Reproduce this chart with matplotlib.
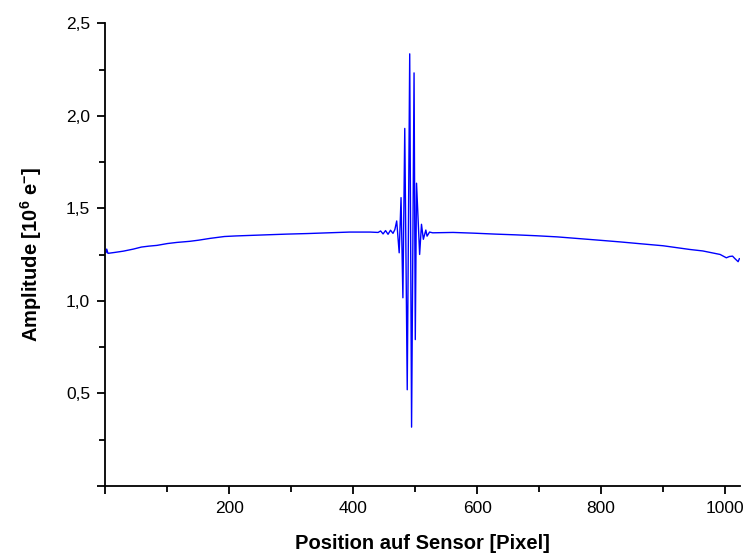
import matplotlib
matplotlib.use("Agg")
from matplotlib import pyplot as plt
from matplotlib.ticker import MultipleLocator, FuncFormatter

# sensor position [pixel] and amplitude [10^6 e-]
pos_left = [1, 2, 4, 15, 29, 45, 58, 70, 83, 100, 115, 136, 150, 169, 192, 210,
            226, 259, 293, 326, 360, 394, 427, 440, 444, 448, 452, 456, 460, 464]
amp_left = [1.262, 1.280, 1.257, 1.262, 1.269, 1.280, 1.291, 1.296, 1.300, 1.310,
            1.316, 1.322, 1.328, 1.338, 1.348, 1.351, 1.353, 1.357, 1.361, 1.364,
            1.368, 1.372, 1.372, 1.370, 1.378, 1.362, 1.380, 1.360, 1.382, 1.365]

pos_osc = [467, 470, 474, 477, 480, 483, 487, 491, 494, 498, 500, 502, 507,
           510, 513, 517, 519, 523]
amp_osc = [1.385, 1.432, 1.260, 1.558, 1.017, 1.932, 0.520, 2.335, 0.318,
           2.232, 0.791, 1.636, 1.251, 1.414, 1.333, 1.383, 1.350, 1.372]

pos_right = [528, 561, 595, 629, 662, 696, 729, 763, 797, 830, 863, 900, 943,
             964, 992, 1002, 1007, 1012, 1016, 1021, 1023]
amp_right = [1.368, 1.370, 1.366, 1.361, 1.357, 1.352, 1.346, 1.337, 1.328,
             1.319, 1.309, 1.298, 1.278, 1.270, 1.251, 1.233, 1.240, 1.242,
             1.228, 1.212, 1.228]

x = pos_left + pos_osc + pos_right
y = amp_left + amp_osc + amp_right

plt.rcParams['font.family'] = ['Liberation Sans', 'DejaVu Sans']
plt.rcParams['mathtext.fontset'] = 'custom'
plt.rcParams['mathtext.rm'] = 'Liberation Sans:bold'
plt.rcParams['mathtext.default'] = 'rm'

fig = plt.figure(figsize=(7.47, 5.56), dpi=100)
ax = fig.add_axes([0.1412, 0.1259, 0.8494, 0.8322])

ax.plot(x, y, color="#0000ff", linewidth=1.0)

ax.set_xlim(0, 1024)
ax.set_ylim(0, 2.5)

ax.spines['top'].set_visible(False)
ax.spines['right'].set_visible(False)
ax.spines['left'].set_linewidth(1.3)
ax.spines['bottom'].set_linewidth(1.3)

ax.xaxis.set_major_locator(MultipleLocator(200))
ax.xaxis.set_minor_locator(MultipleLocator(100))
ax.yaxis.set_major_locator(MultipleLocator(0.5))
ax.yaxis.set_minor_locator(MultipleLocator(0.25))

ax.xaxis.set_major_formatter(FuncFormatter(lambda v, p: "" if v == 0 else "%d" % v))
ax.yaxis.set_major_formatter(FuncFormatter(lambda v, p: "" if v == 0 else ("%.1f" % v).replace(".", ",")))

ax.tick_params(which='major', direction='out', length=6, width=1.3, labelsize=12.5, pad=5)
ax.tick_params(which='minor', direction='out', length=4, width=1.3)

ax.set_xlabel("Position auf Sensor [Pixel]", fontsize=14.5, fontweight='bold', labelpad=13)
ax.set_ylabel(r"Amplitude [10$^6$ e$^{-}$]", fontsize=14.5, fontweight='bold', labelpad=16)

fig.savefig("out.png", dpi=100)
